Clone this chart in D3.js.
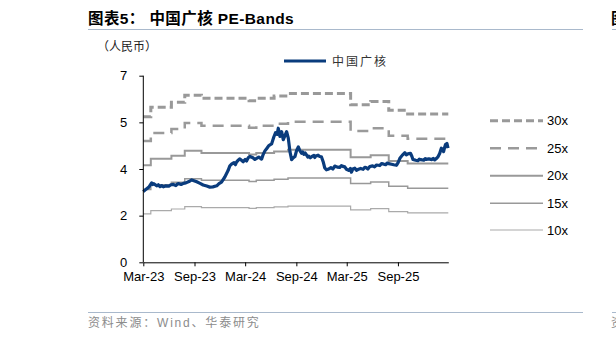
<!DOCTYPE html>
<head>
<meta charset="utf-8">
<title>中国广核 PE-Bands</title>
<script src="https://d3js.org/d3.v7.min.js"></script>
</head>

<style>
body { margin: 0; background: #fff; }
svg { display: block; font-family: "Liberation Sans", Arial, "Noto Sans CJK SC", sans-serif; }
.axis path, .axis line { stroke: #000; }
.axis text { font-size: 13px; fill: #000; }
</style>

<body>
<svg class="chart"></svg>
</body>

<script>
// share price (CNY)
var priceDates = ["2023-03-01","2023-03-06","2023-03-11","2023-03-21","2023-03-31","2023-04-04","2023-04-08","2023-04-18","2023-04-24","2023-04-30",
  "2023-05-06","2023-05-12","2023-05-21","2023-06-01","2023-06-09","2023-06-17","2023-06-26","2023-07-02","2023-07-07","2023-07-15",
  "2023-07-23","2023-08-01","2023-08-12","2023-08-22","2023-08-30","2023-09-09","2023-09-21","2023-10-02","2023-10-15","2023-10-26",
  "2023-11-06","2023-11-20","2023-11-28","2023-12-07","2023-12-19","2023-12-31","2024-01-06","2024-01-12","2024-01-21","2024-01-26",
  "2024-01-30","2024-02-06","2024-02-11","2024-02-23","2024-03-01","2024-03-06","2024-03-12","2024-03-18","2024-03-29","2024-04-05",
  "2024-04-11","2024-04-19","2024-04-29","2024-05-05","2024-05-11","2024-05-17","2024-05-25","2024-06-04","2024-06-12","2024-06-18",
  "2024-06-24","2024-06-28","2024-07-04","2024-07-10","2024-07-16","2024-07-22","2024-07-28","2024-08-03","2024-08-09","2024-08-15",
  "2024-08-21","2024-08-27","2024-09-02","2024-09-08","2024-09-14","2024-09-20","2024-09-24","2024-09-28","2024-10-03","2024-10-08",
  "2024-10-12","2024-10-16","2024-10-21","2024-10-26","2024-11-03","2024-11-06","2024-11-10","2024-11-18","2024-11-24","2024-11-30",
  "2024-12-07","2024-12-12","2024-12-18","2024-12-24","2025-01-03","2025-01-10","2025-01-17","2025-01-26","2025-02-04","2025-02-10",
  "2025-02-15","2025-02-22","2025-02-28","2025-03-08","2025-03-14","2025-03-18","2025-03-23","2025-03-30","2025-04-05","2025-04-10",
  "2025-04-20","2025-04-29","2025-05-05","2025-05-10","2025-05-16","2025-05-23","2025-06-02","2025-06-09","2025-06-16","2025-06-28",
  "2025-07-04","2025-07-10","2025-07-19","2025-07-24","2025-07-30","2025-08-09","2025-08-17","2025-08-27","2025-09-02","2025-09-08",
  "2025-09-17","2025-09-26","2025-10-01","2025-10-07","2025-10-16","2025-10-21","2025-10-25","2025-11-04","2025-11-12","2025-11-17",
  "2025-11-22","2025-12-03","2025-12-08","2025-12-12","2025-12-21","2026-01-01","2026-01-06","2026-01-11","2026-01-18","2026-01-23",
  "2026-01-29","2026-02-04","2026-02-09","2026-02-12","2026-02-16","2026-02-19","2026-02-24","2026-02-28"];
var price = [2.65,2.70,2.74,2.82,2.98,2.92,2.95,2.87,2.91,2.84,
  2.88,2.83,2.87,2.86,2.91,2.92,2.88,2.94,2.95,2.92,
  2.96,2.98,3.03,3.09,3.06,3.02,2.96,2.90,2.86,2.82,
  2.83,2.87,2.95,3.01,3.20,3.45,3.62,3.68,3.74,3.66,
  3.76,3.84,3.88,3.77,3.86,3.80,3.92,3.97,3.92,3.86,
  3.90,3.95,3.87,4.05,4.18,4.26,4.38,4.44,4.70,4.86,
  4.80,5.03,4.72,4.90,4.60,4.75,4.90,4.66,4.15,3.85,
  3.92,3.97,4.20,4.33,4.18,4.09,4.14,4.05,4.10,4.02,
  3.95,3.98,3.92,3.96,4.01,3.93,3.99,4.02,3.97,3.96,
  3.75,3.54,3.47,3.49,3.55,3.50,3.61,3.57,3.56,3.63,
  3.60,3.58,3.49,3.45,3.52,3.38,3.50,3.53,3.45,3.48,
  3.52,3.49,3.56,3.55,3.50,3.59,3.62,3.58,3.65,3.63,
  3.70,3.69,3.66,3.72,3.70,3.68,3.66,3.64,3.75,3.90,
  4.02,4.11,4.03,4.07,4.09,3.98,3.86,3.83,3.81,3.87,
  3.85,3.83,3.89,3.86,3.88,3.85,3.90,3.84,3.90,3.96,
  4.08,4.28,4.20,4.15,4.32,4.42,4.46,4.28];

// EPS steps behind the bands (CNY per share)
var epsDates = ["2023-03-01","2023-03-28","2023-06-10","2023-07-28","2023-09-26","2024-03-15","2024-04-10",
  "2024-06-13","2024-08-02","2025-03-15","2025-05-26","2025-07-30","2025-10-06","2026-03-01"];
var eps = [0.182,0.194,0.200,0.209,0.205,0.202,0.205,0.208,0.211,0.197,0.201,0.190,0.1855,0.1855];

var multiples = [30, 25, 20, 15, 10];
var bandLabels = ["30x", "25x", "20x", "15x", "10x"];
var xTickDates = ["2023-03-01","2023-09-01","2024-03-01","2024-09-01","2025-03-01","2025-09-01"];
var yTicks = [0, 1.75, 3.5, 5.25, 7];

var bandStyle = {
  30: {color: "#999", width: 3, dash: "8,4"},
  25: {color: "#9a9a9a", width: 2.5, dash: "11,7"},
  20: {color: "#999", width: 2, dash: null},
  15: {color: "#999", width: 1.5, dash: null},
  10: {color: "#aaa", width: 1.2, dash: null}
};

var W = 616, H = 344;
var parse = d3.timeParse("%Y-%m-%d");
var plot = {left: 143.3, right: 448.3, top: 75.7, bottom: 262.3};

var svg = d3.select(".chart").attr("width", W).attr("height", H);

var x = d3.scaleTime()
  .domain([parse("2023-03-01"), parse("2026-03-01")])
  .range([plot.left, plot.right]);
var y = d3.scaleLinear()
  .domain([0, 7])
  .range([plot.bottom, plot.top]);

// title
svg.append("text")
  .attr("x", 88).attr("y", 24)
  .style("font-size", "15.5px").style("font-weight", "bold").style("fill", "#000")
  .style("letter-spacing", "0.4px")
  .text("图表5：  中国广核 PE-Bands");
svg.append("line")
  .attr("x1", 88).attr("x2", 583).attr("y1", 29.5).attr("y2", 29.5)
  .style("stroke", "#a9b9cc").style("stroke-width", 1);
// start of the next chart, cut by the page edge
svg.append("text").attr("x", 611).attr("y", 24)
  .style("font-size", "15.5px").style("font-weight", "bold").text("图");
svg.append("line").attr("x1", 612).attr("x2", 616).attr("y1", 29.5).attr("y2", 29.5)
  .style("stroke", "#a9b9cc");

svg.append("text")
  .attr("x", 97).attr("y", 51)
  .style("font-size", "12px").style("fill", "#222")
  .text("（人民币）");

// bands
var bandLine = d3.line()
  .curve(d3.curveStepAfter)
  .x(function(d){ return x(d.date); })
  .y(function(d){ return y(d.v); });

multiples.forEach(function(m){
  var pts = epsDates.map(function(d, i){ return {date: parse(d), v: eps[i] * m}; });
  var s = bandStyle[m];
  svg.append("path")
    .datum(pts)
    .attr("d", bandLine)
    .style("fill", "none")
    .style("stroke", s.color)
    .style("stroke-width", s.width)
    .style("stroke-dasharray", s.dash);
});

// price
var priceData = priceDates.map(function(d, i){ return {date: parse(d), v: price[i]}; });
svg.append("path")
  .datum(priceData)
  .attr("d", d3.line().x(function(d){ return x(d.date); }).y(function(d){ return y(d.v); }))
  .style("fill", "none")
  .style("stroke", "#0a3c7d")
  .style("stroke-width", 3.2)
  .style("stroke-linejoin", "round");

// axes
svg.append("g")
  .attr("class", "axis")
  .attr("transform", "translate(" + plot.left + ",0)")
  .call(d3.axisLeft(y).tickValues(yTicks).tickFormat(d3.format(".0f"))
    .tickSizeInner(4).tickSizeOuter(0).tickPadding(12))
  .call(function(g){ g.select(".domain").attr("d", "M0," + plot.bottom + "V" + plot.top); });

svg.append("g")
  .attr("class", "axis")
  .attr("transform", "translate(0," + plot.bottom + ")")
  .call(d3.axisBottom(x).tickValues(xTickDates.map(parse)).tickFormat(d3.timeFormat("%b-%y"))
    .tickSizeInner(4).tickSizeOuter(0).tickPadding(5));

// top legend
svg.append("line")
  .attr("x1", 284).attr("x2", 326).attr("y1", 61).attr("y2", 61)
  .style("stroke", "#0a3c7d").style("stroke-width", 3);
svg.append("text")
  .attr("x", 332).attr("y", 65.5)
  .style("font-size", "12px").style("letter-spacing", "2px").style("fill", "#333")
  .text("中国广核");

// band legend
var legendY = [120.7, 148.3, 175.7, 203.3, 230];
multiples.forEach(function(m, i){
  var s = bandStyle[m];
  svg.append("line")
    .attr("x1", 490).attr("x2", 543).attr("y1", legendY[i]).attr("y2", legendY[i])
    .style("stroke", s.color).style("stroke-width", s.width)
    .style("stroke-dasharray", s.dash);
  svg.append("text")
    .attr("x", 547).attr("y", legendY[i] + 4.5)
    .style("font-size", "13px").style("fill", "#000")
    .text(bandLabels[i]);
});

// source
svg.append("line")
  .attr("x1", 88).attr("x2", 583).attr("y1", 312.5).attr("y2", 312.5)
  .style("stroke", "#a9b9cc").style("stroke-width", 1);
svg.append("line").attr("x1", 612).attr("x2", 616).attr("y1", 312.5).attr("y2", 312.5)
  .style("stroke", "#a9b9cc");
svg.append("text")
  .attr("x", 88).attr("y", 327)
  .style("font-size", "12px").style("letter-spacing", "1.8px").style("fill", "#8c8c8c")
  .text("资料来源：Wind、华泰研究");
svg.append("text").attr("x", 611).attr("y", 327)
  .style("font-size", "12px").style("fill", "#8c8c8c").text("资");
</script>
